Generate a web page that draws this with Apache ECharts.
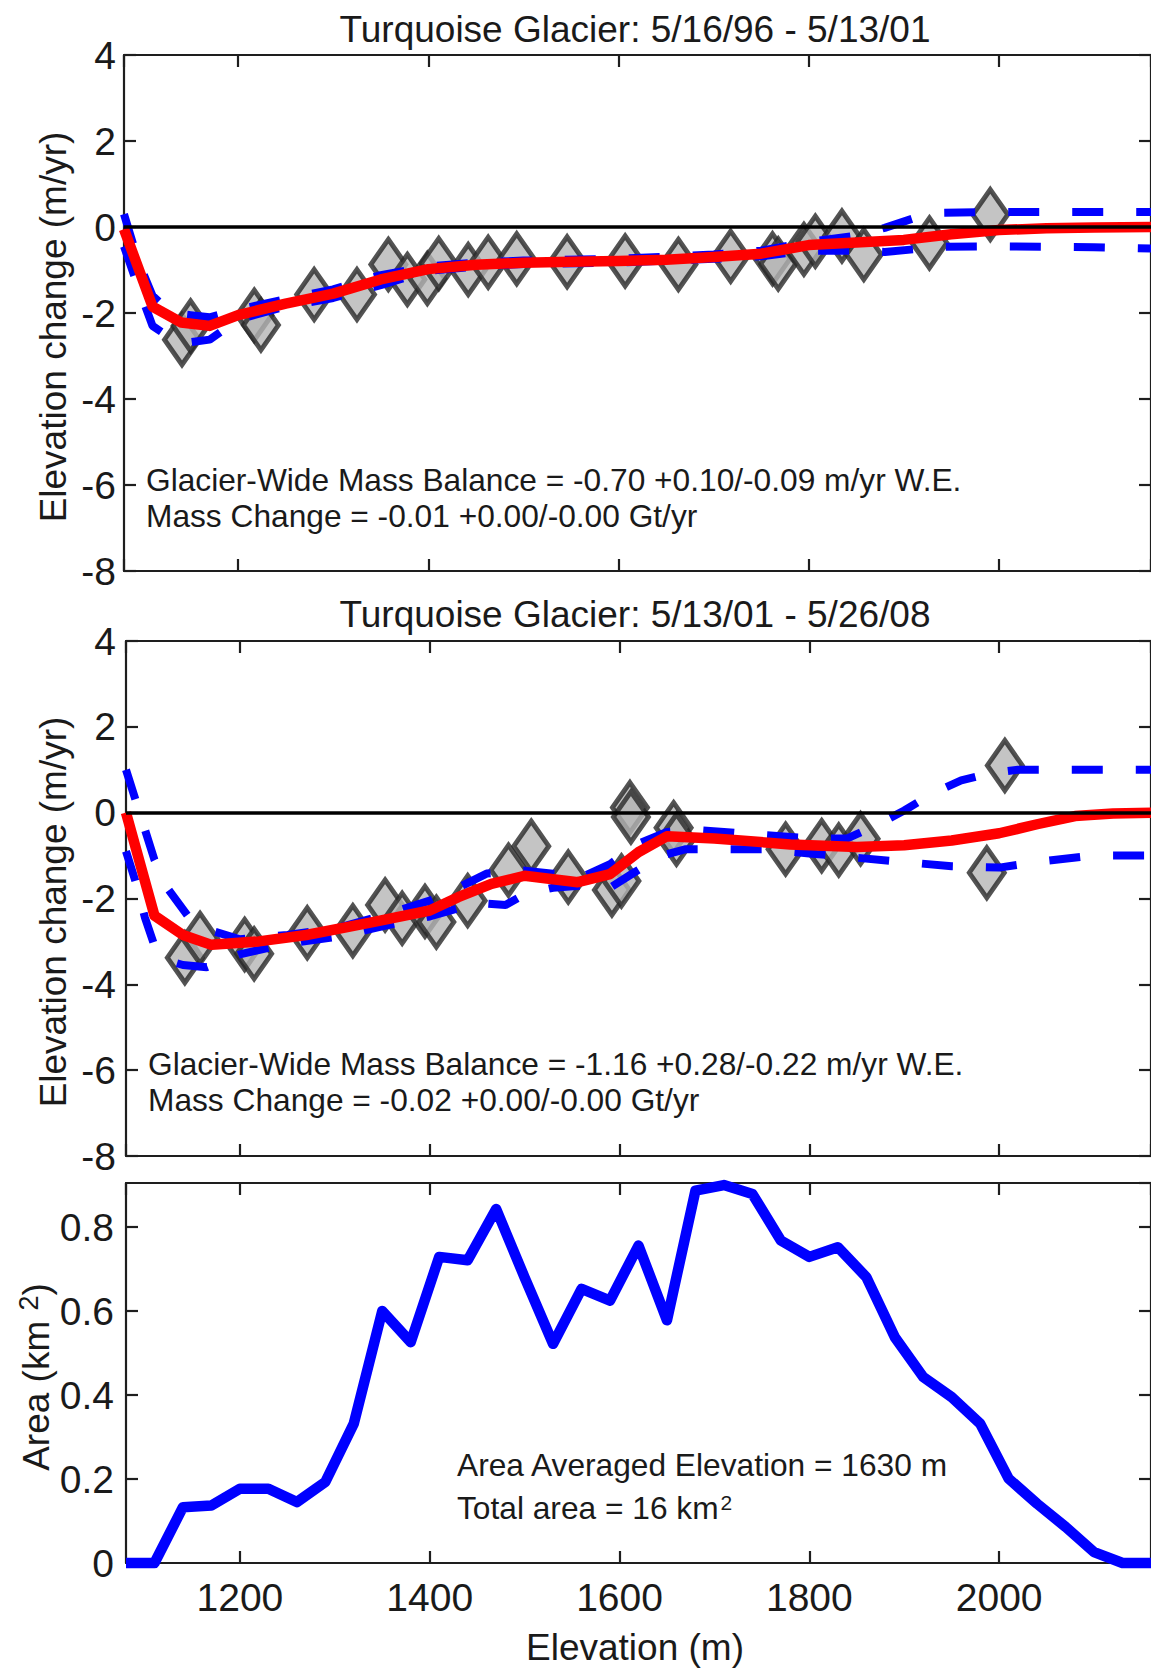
<!DOCTYPE html>
<html><head><meta charset="utf-8">
<script src="https://cdn.jsdelivr.net/npm/echarts@6/dist/echarts.min.js"></script>
<style>html,body{margin:0;padding:0;background:#fff}#c{width:1151px;height:1668px}</style>
</head><body><div id="c"></div>
<script>
// ---------- DATA ----------
const xTicks = [1200, 1400, 1600, 1800, 2000];
const yTicksChange = [-8, -6, -4, -2, 0, 2, 4];
const yTicksArea = [0, 0.2, 0.4, 0.6, 0.8];

// Panel 1: 5/16/96 - 5/13/01
const p1ObsE = [1141,1150,1217,1224,1280,1325,1358,1378,1399,1411,1442,1463,1493,1546,1607,1663,1718,1762,1768,1795,1807,1835,1858,1927,1991];
const p1ObsV = [-2.62,-2.3,-2.05,-2.28,-1.57,-1.57,-0.87,-1.22,-1.2,-0.85,-0.99,-0.82,-0.74,-0.81,-0.79,-0.87,-0.68,-0.74,-0.86,-0.52,-0.33,-0.21,-0.64,-0.37,0.29];
const p1FitE = [1080,1110,1140,1170,1200,1250,1300,1350,1400,1450,1500,1550,1600,1650,1700,1750,1800,1850,1900,1950,2000,2050,2100,2160];
const p1FitV = [-0.05,-1.85,-2.22,-2.3,-2.05,-1.78,-1.55,-1.22,-0.98,-0.88,-0.83,-0.81,-0.79,-0.76,-0.7,-0.62,-0.42,-0.36,-0.3,-0.17,-0.07,-0.03,-0.01,0.0];
const p1BndE = [1080,1095,1110,1130,1150,1170,1200,1250,1300,1350,1400,1450,1500,1600,1700,1750,1800,1850,1880,1910,1940,2000,2100,2160];
const p1UpV  = [0.3,-0.8,-1.6,-2.0,-2.05,-2.1,-1.92,-1.68,-1.45,-1.12,-0.92,-0.83,-0.78,-0.74,-0.64,-0.55,-0.35,-0.2,-0.02,0.2,0.33,0.35,0.35,0.35];
const p1LoV  = [-0.45,-1.4,-2.3,-2.6,-2.68,-2.62,-2.15,-1.85,-1.65,-1.35,-1.02,-0.92,-0.86,-0.83,-0.74,-0.68,-0.55,-0.55,-0.58,-0.52,-0.46,-0.45,-0.47,-0.5];

// Panel 2: 5/13/01 - 5/26/08
const p2ObsE = [1142,1158,1205,1215,1271,1319,1353,1371,1395,1407,1440,1483,1507,1546,1592,1602,1611,1612,1657,1660,1775,1813,1831,1854,1987,2006];
const p2ObsV = [-3.38,-2.93,-3.07,-3.29,-2.8,-2.75,-2.15,-2.46,-2.3,-2.55,-2.05,-1.34,-0.78,-1.5,-1.8,-1.59,0.12,-0.1,-0.35,-0.62,-0.85,-0.77,-0.87,-0.61,-1.4,1.1];
const p2FitE = [1080,1110,1140,1170,1220,1270,1340,1400,1430,1465,1500,1530,1556,1590,1620,1650,1700,1780,1850,1900,1950,2000,2040,2080,2120,2160];
const p2FitV = [0,-2.4,-2.85,-3.08,-3.0,-2.85,-2.55,-2.28,-1.97,-1.66,-1.47,-1.55,-1.62,-1.43,-0.92,-0.55,-0.6,-0.74,-0.8,-0.76,-0.65,-0.48,-0.27,-0.08,-0.02,0];
const p2UpE = [1080,1090,1100,1110,1125,1145,1170,1200,1250,1300,1350,1400,1430,1460,1500,1530,1560,1590,1620,1650,1680,1710,1750,1800,1840,1870,1900,1930,1960,1990,2020,2160];
const p2UpV = [1.0,0.3,-0.4,-1.1,-1.8,-2.4,-2.75,-2.95,-2.85,-2.7,-2.4,-2.05,-1.75,-1.42,-1.35,-1.42,-1.5,-1.2,-0.72,-0.45,-0.4,-0.45,-0.52,-0.6,-0.6,-0.3,0.05,0.45,0.75,0.92,1.0,1.0];
const p2LoE = [1080,1090,1100,1110,1125,1140,1165,1200,1250,1300,1350,1400,1450,1480,1500,1530,1560,1590,1615,1645,1670,1710,1750,1800,1850,1900,1950,2000,2050,2100,2160];
const p2LoV = [-0.9,-1.6,-2.45,-3.1,-3.45,-3.55,-3.6,-3.3,-3.05,-2.9,-2.65,-2.42,-2.1,-2.15,-1.9,-1.75,-1.7,-1.75,-1.4,-1.0,-0.85,-0.85,-0.85,-0.95,-1.05,-1.15,-1.25,-1.28,-1.12,-1.0,-1.0];

// Panel 3: area-elevation distribution
const areaE = [1080,1110,1140,1170,1200,1230,1260,1290,1320,1350,1380,1410,1440,1470,1500,1530,1560,1590,1620,1650,1680,1710,1740,1770,1800,1830,1860,1890,1920,1950,1980,2010,2040,2070,2100,2130,2160];
const areaV = [0,0,0.133,0.137,0.177,0.177,0.145,0.193,0.332,0.6,0.526,0.729,0.721,0.843,0.68,0.522,0.653,0.625,0.756,0.578,0.887,0.9,0.879,0.768,0.729,0.752,0.681,0.538,0.443,0.395,0.332,0.201,0.141,0.086,0.026,0,0];

const titles = ['Turquoise Glacier: 5/16/96 - 5/13/01', 'Turquoise Glacier: 5/13/01 - 5/26/08'];
const notes1 = ['Glacier-Wide Mass Balance = -0.70 +0.10/-0.09 m/yr W.E.', 'Mass Change = -0.01 +0.00/-0.00 Gt/yr'];
const notes2 = ['Glacier-Wide Mass Balance = -1.16 +0.28/-0.22 m/yr W.E.', 'Mass Change = -0.02 +0.00/-0.00 Gt/yr'];
const notes3 = ['Area Averaged Elevation = 1630 m', 'Total area = 16 km{sup|2}'];
const X_MIN = 1080, X_MAX = 2160;

// ---------- CHART ----------
const FF = '"Liberation Sans", Arial, Helvetica, sans-serif';
const AX = '#1e1e1e', TXT = '#1a1a1a';
const TICK_FS = 39;
const zip = (a, b) => a.map((v, i) => [v, b[i]]);

function xAx(g, pos, lab) {
  return {type:'value', gridIndex:g, position:pos, min:X_MIN, max:X_MAX, splitNumber:5,
    axisLine:{show:true, onZero:false, lineStyle:{color:AX, width:2.2}},
    axisTick:{show:true, inside:true, length:12, lineStyle:{color:AX, width:2.2}},
    axisLabel:{show:lab, showMinLabel:false, showMaxLabel:false, formatter:v => String(v),
      fontSize:TICK_FS, fontFamily:FF, color:TXT, margin:15},
    splitLine:{show:false}};
}
function yAx(g, pos, lab, kind, margin) {
  const o = {type:'value', gridIndex:g, position:pos,
    axisLine:{show:true, onZero:false, lineStyle:{color:AX, width:2.2}},
    axisTick:{show:true, inside:true, length:12, lineStyle:{color:AX, width:2.2}},
    axisLabel:{show:lab, fontSize:TICK_FS, fontFamily:FF, color:TXT, margin:margin, showMaxLabel: kind !== 'area'},
    splitLine:{show:false}};
  if (kind === 'area') { o.min = yTicksArea[0]; o.max = 0.905; o.interval = yTicksArea[1] - yTicksArea[0]; }
  else { o.min = yTicksChange[0]; o.max = yTicksChange[yTicksChange.length-1]; o.interval = yTicksChange[1] - yTicksChange[0]; }
  return o;
}

const diamond = {symbol:'diamond', symbolSize:[35, 50],
  itemStyle:{color:'#b5b5b5', borderColor:'#282828', borderWidth:5}};

function panelSeries(ax, obsE, obsV, fitE, fitV, upE, upV, loE, loV) {
  return [
    {type:'line', xAxisIndex:ax, yAxisIndex:ax, data:[], z:1, silent:true,
     markLine:{silent:true, symbol:'none', label:{show:false}, animation:false,
       lineStyle:{color:'#000', width:3.5, type:'solid'}, data:[{yAxis:0}]}},
    Object.assign({type:'scatter', xAxisIndex:ax, yAxisIndex:ax, data:zip(obsE, obsV), z:2, silent:true}, diamond),
    {type:'line', xAxisIndex:ax, yAxisIndex:ax, data:zip(upE, upV), z:3, showSymbol:false, silent:true,
     lineStyle:{color:'#0000ff', width:8, type:[31, 33], cap:'butt'}},
    {type:'line', xAxisIndex:ax, yAxisIndex:ax, data:zip(loE, loV), z:3, showSymbol:false, silent:true,
     lineStyle:{color:'#0000ff', width:8, type:[31, 33], cap:'butt'}},
    {type:'line', xAxisIndex:ax, yAxisIndex:ax, data:zip(fitE, fitV), z:4, showSymbol:false, silent:true,
     lineStyle:{color:'#ff0000', width:10.5, join:'round'}}
  ];
}

function txt(x, y, text, size, align, extra) {
  return Object.assign({type:'text', x:x, y:y, silent:true, z:50,
    style:Object.assign({text:text, x:0, y:0, fill:TXT, font: size + 'px ' + FF,
      textAlign:align, align:align, textVerticalAlign:'middle', verticalAlign:'middle'}, (extra||{}).style || {})},
    (extra||{}).el || {});
}
const supRich = {rich:{sup:{fontSize:21, fontFamily:FF, fill:TXT, color:TXT, verticalAlign:'top', padding:[0,0,12,2]}}};

const chart = echarts.init(document.getElementById('c'), null, {renderer:'svg', width:1151, height:1668});
chart.setOption({
  animation:false,
  backgroundColor:'#fff',
  grid:[
    {left:124, top:55, width:1028, height:516},
    {left:126, top:641, width:1029, height:515},
    {left:126, top:1183, width:1029, height:380}
  ],
  xAxis:[xAx(0,'bottom',false), xAx(0,'top',false), xAx(1,'bottom',false), xAx(1,'top',false), xAx(2,'bottom',true), xAx(2,'top',false)],
  yAxis:[yAx(0,'left',true,'chg',8), yAx(0,'right',false,'chg',8), yAx(1,'left',true,'chg',10), yAx(1,'right',false,'chg',10),
         yAx(2,'left',true,'area',12), yAx(2,'right',false,'area',12)],
  series:[
    ...panelSeries(0, p1ObsE, p1ObsV, p1FitE, p1FitV, p1BndE, p1UpV, p1BndE, p1LoV),
    ...panelSeries(2, p2ObsE, p2ObsV, p2FitE, p2FitV, p2UpE, p2UpV, p2LoE, p2LoV),
    {type:'line', xAxisIndex:4, yAxisIndex:4, data:zip(areaE, areaV), showSymbol:false, clip:false, silent:true,
     lineStyle:{color:'#0000ff', width:10.5, join:'round'}}
  ],
  graphic:[
    txt(635, 29, titles[0], 37, 'center'),
    txt(635, 614, titles[1], 37, 'center'),
    txt(53, 327, 'Elevation change (m/yr)', 37, 'center', {el:{rotation:Math.PI/2}}),
    txt(53, 912, 'Elevation change (m/yr)', 37, 'center', {el:{rotation:Math.PI/2}}),
    txt(36, 1377, 'Area (km {sup|2})', 37, 'center', {el:{rotation:Math.PI/2}, style:{rich:{sup:{fontSize:27, fontFamily:FF, fill:TXT, verticalAlign:'top', padding:[0,0,14,0]}}}}),
    txt(635, 1647, 'Elevation (m)', 37, 'center'),
    txt(146, 480, notes1[0], 31.7, 'left'),
    txt(146, 516, notes1[1], 31.7, 'left'),
    txt(148, 1064, notes2[0], 31.7, 'left'),
    txt(148, 1100, notes2[1], 31.7, 'left'),
    txt(457, 1465, notes3[0], 31.7, 'left'),
    txt(457, 1508, notes3[1], 31.7, 'left', {style:supRich})
  ]
});
</script></body></html>
